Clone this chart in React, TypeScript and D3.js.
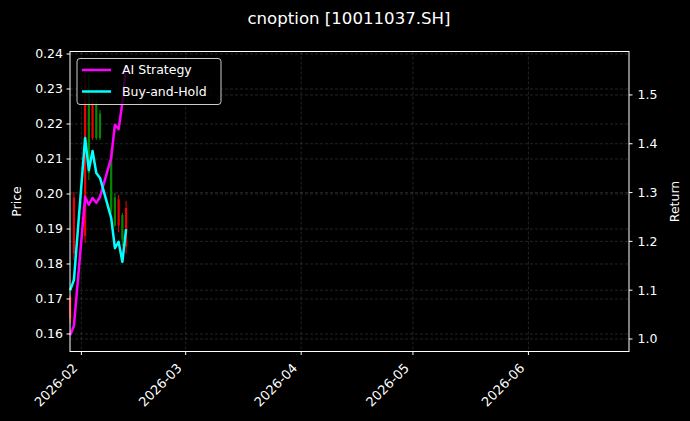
import { useEffect } from "react";
import * as d3 from "d3";

// trading days shown on the chart
const dates = [
  "2026-01-29", "2026-01-30", "2026-02-02", "2026-02-03", "2026-02-04", "2026-02-05",
  "2026-02-06", "2026-02-09", "2026-02-10", "2026-02-11", "2026-02-12", "2026-02-13",
];

// option prices (left axis)
const openPx = [0.1645, 0.183, 0.188, 0.228, 0.216, 0.226, 0.223, 0.211, 0.199, 0.191, 0.194, 0.185];
const highPx = [0.171, 0.2006, 0.235, 0.234, 0.227, 0.227, 0.224, 0.213, 0.2003, 0.1997, 0.1946, 0.198];
const lowPx = [0.163, 0.181, 0.186, 0.204, 0.2154, 0.2154, 0.2154, 0.1946, 0.1906, 0.1891, 0.1851, 0.183];
const closePx = [0.1705, 0.199, 0.227, 0.206, 0.226, 0.216, 0.216, 0.195, 0.191, 0.1985, 0.187, 0.196];

// cumulative returns (right axis)
const aiReturn = [1.008, 1.027, 1.291, 1.275, 1.289, 1.279, 1.291, 1.371, 1.439, 1.43, 1.484, 1.56];
const bhReturn = [1.1, 1.121, 1.412, 1.346, 1.385, 1.34, 1.33, 1.248, 1.186, 1.199, 1.158, 1.225];

const priceTicks = [0.16, 0.17, 0.18, 0.19, 0.2, 0.21, 0.22, 0.23, 0.24];
const returnTicks = [1.0, 1.1, 1.2, 1.3, 1.4, 1.5];

const seriesNames = ["AI Strategy", "Buy-and-Hold"];
const seriesColors = ["#ff00ff", "#00ffff"];

const W = 690;
const H = 421;
const box = { left: 70, right: 629, top: 51.5, bottom: 351.5 };
const FONT = "'DejaVu Sans', sans-serif";

export default function App() {
  useEffect(() => {
    document.body.style.margin = "0";
    document.body.style.background = "#000";
  }, []);

  const parse = (s: string) => new Date(s + "T00:00:00Z");
  const days = dates.map(parse);

  const x = d3
    .scaleUtc()
    .domain([new Date(Date.UTC(2026, 0, 28, 22, 40)), new Date(Date.UTC(2026, 5, 28))])
    .range([box.left, box.right]);
  const yPrice = d3.scaleLinear().domain([0.155, 0.24071]).range([box.bottom, box.top]);
  const yRet = d3.scaleLinear().domain([0.9744, 1.589]).range([box.bottom, box.top]);

  const monthTicks = d3.utcMonths(new Date(Date.UTC(2026, 1, 1)), new Date(Date.UTC(2026, 5, 2)));
  const fmtMonth = d3.utcFormat("%Y-%m");

  const line = (vals: number[]) =>
    d3
      .line<number>()
      .x((_, i) => x(days[i]))
      .y((v) => yRet(v))(vals) as string;

  const gridStyle = { stroke: "#ffffff", strokeOpacity: 0.2, strokeWidth: 0.7, strokeDasharray: "3,2" };

  return (
    <svg width={W} height={H} style={{ display: "block", background: "#000" }} fontFamily={FONT}>
      <rect x={0} y={0} width={W} height={H} fill="#000" />
      <text x={349} y={24} fill="#fff" fontSize={16.6} textAnchor="middle">
        cnoption [10011037.SH]
      </text>

      {/* grid */}
      {monthTicks.map((d) => (
        <line key={"gx" + d.toISOString()} x1={x(d)} x2={x(d)} y1={box.top} y2={box.bottom} {...gridStyle} />
      ))}
      {priceTicks.map((t) => (
        <line key={"gp" + t} x1={box.left} x2={box.right} y1={yPrice(t)} y2={yPrice(t)} {...gridStyle} />
      ))}
      {returnTicks.map((t) => (
        <line key={"gr" + t} x1={box.left} x2={box.right} y1={yRet(t)} y2={yRet(t)} {...gridStyle} />
      ))}

      {/* candles */}
      {days.map((d, i) => {
        const up = closePx[i] >= openPx[i];
        const c = up ? "#f00000" : "#008a00";
        const cx = x(d);
        const top = yPrice(Math.max(openPx[i], closePx[i]));
        const bot = yPrice(Math.min(openPx[i], closePx[i]));
        return (
          <g key={"c" + i}>
            <line x1={cx} x2={cx} y1={yPrice(highPx[i])} y2={yPrice(lowPx[i])} stroke={c} strokeWidth={1} />
            <rect x={cx - 1.1} y={top} width={2.2} height={Math.max(bot - top, 0.8)} fill={c} />
          </g>
        );
      })}

      {/* return lines */}
      <path d={line(aiReturn)} fill="none" stroke={seriesColors[0]} strokeWidth={2.5} strokeLinejoin="round" />
      <path d={line(bhReturn)} fill="none" stroke={seriesColors[1]} strokeWidth={2.5} strokeLinejoin="round" />

      {/* spines */}
      <rect
        x={box.left}
        y={box.top}
        width={box.right - box.left}
        height={box.bottom - box.top}
        fill="none"
        stroke="#fff"
        strokeWidth={1}
      />

      {/* left axis */}
      {priceTicks.map((t) => (
        <g key={"lp" + t}>
          <line x1={box.left - 3.5} x2={box.left} y1={yPrice(t)} y2={yPrice(t)} stroke="#fff" />
          <text x={box.left - 7} y={yPrice(t)} dy="0.35em" fill="#fff" fontSize={12.5} textAnchor="end">
            {t.toFixed(2)}
          </text>
        </g>
      ))}
      <text
        transform={`translate(21,${(box.top + box.bottom) / 2}) rotate(-90)`}
        fill="#fff"
        fontSize={12.5}
        textAnchor="middle"
      >
        Price
      </text>

      {/* right axis */}
      {returnTicks.map((t) => (
        <g key={"rr" + t}>
          <line x1={box.right} x2={box.right + 3.5} y1={yRet(t)} y2={yRet(t)} stroke="#fff" />
          <text x={box.right + 8.5} y={yRet(t)} dy="0.35em" fill="#fff" fontSize={12.5}>
            {t.toFixed(1)}
          </text>
        </g>
      ))}
      <text
        transform={`translate(679,${(box.top + box.bottom) / 2}) rotate(-90)`}
        fill="#fff"
        fontSize={12.5}
        textAnchor="middle"
      >
        Return
      </text>

      {/* x axis */}
      {monthTicks.map((d) => (
        <g key={"xt" + d.toISOString()}>
          <line x1={x(d)} x2={x(d)} y1={box.bottom} y2={box.bottom + 3.5} stroke="#fff" />
          <text
            transform={`translate(${x(d) - 3},${box.bottom + 17.5}) rotate(-45)`}
            fill="#fff"
            fontSize={13}
            textAnchor="end"
          >
            {fmtMonth(d)}
          </text>
        </g>
      ))}

      {/* legend */}
      <g>
        <rect x={77} y={58.5} width={144} height={46} rx={3} fill="#000" fillOpacity={0.8} stroke="#cccccc" />
        {seriesNames.map((n, i) => (
          <g key={n}>
            <line x1={82} x2={111} y1={70 + i * 21.5} y2={70 + i * 21.5} stroke={seriesColors[i]} strokeWidth={2.5} />
            <text x={122} y={70 + i * 21.5} dy="0.35em" fill="#fff" fontSize={12.5}>
              {n}
            </text>
          </g>
        ))}
      </g>
    </svg>
  );
}
